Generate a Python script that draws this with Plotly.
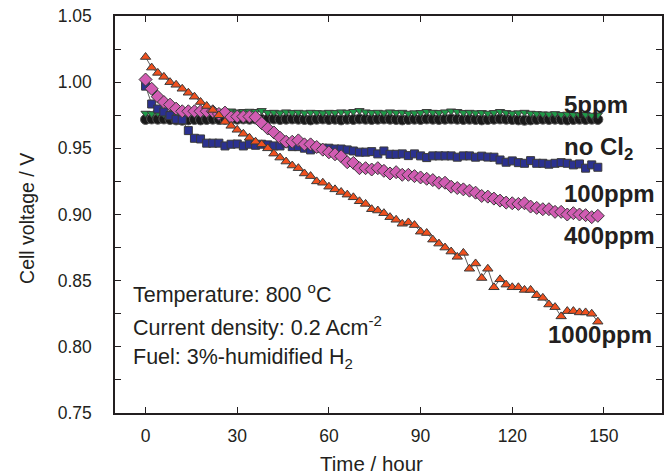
import plotly.graph_objects as go

# Sampling times (hours), one reading every 2 h
hours = list(range(0, 150, 2))

# Cell voltage (V) for each Cl2 concentration
v_no_cl2 = [0.9718, 0.9722, 0.9720, 0.9722, 0.9718, 0.9715, 0.9712, 0.9715, 0.9718, 0.9715,
            0.9718, 0.9720, 0.9718, 0.9720, 0.9722, 0.9720, 0.9722, 0.9720, 0.9722, 0.9718,
            0.9720, 0.9722, 0.9718, 0.9720, 0.9722, 0.9720, 0.9718, 0.9715, 0.9720, 0.9722,
            0.9718, 0.9720, 0.9715, 0.9720, 0.9718, 0.9722, 0.9720, 0.9718, 0.9720, 0.9722,
            0.9720, 0.9718, 0.9715, 0.9718, 0.9720, 0.9718, 0.9722, 0.9720, 0.9718, 0.9720,
            0.9722, 0.9720, 0.9718, 0.9720, 0.9718, 0.9715, 0.9718, 0.9720, 0.9722, 0.9720,
            0.9718, 0.9715, 0.9712, 0.9715, 0.9718, 0.9720, 0.9718, 0.9720, 0.9718, 0.9715,
            0.9718, 0.9720, 0.9718, 0.9720, 0.9718]

v_5ppm = [0.9765, 0.9762, 0.9768, 0.9760, 0.9765, 0.9762, 0.9770, 0.9765, 0.9768, 0.9762,
          0.9770, 0.9765, 0.9775, 0.9780, 0.9782, 0.9775, 0.9778, 0.9780, 0.9778, 0.9785,
          0.9770, 0.9772, 0.9768, 0.9775, 0.9770, 0.9772, 0.9768, 0.9772, 0.9770, 0.9768,
          0.9772, 0.9770, 0.9775, 0.9772, 0.9778, 0.9785, 0.9775, 0.9770, 0.9772, 0.9768,
          0.9775, 0.9770, 0.9772, 0.9765, 0.9768, 0.9770, 0.9778, 0.9772, 0.9770, 0.9775,
          0.9782, 0.9778, 0.9770, 0.9772, 0.9768, 0.9770, 0.9765, 0.9770, 0.9778, 0.9770,
          0.9765, 0.9768, 0.9772, 0.9765, 0.9762, 0.9760, 0.9758, 0.9762, 0.9755, 0.9758,
          0.9755, 0.9752, 0.9755, 0.9750, 0.9752]

v_100ppm = [0.9970, 0.9835, 0.9797, 0.9775, 0.9747, 0.9720, 0.9715, 0.9634, 0.9576, 0.9571,
            0.9539, 0.9539, 0.9539, 0.9518, 0.9531, 0.9533, 0.9518, 0.9531, 0.9523, 0.9531,
            0.9526, 0.9518, 0.9518, 0.9539, 0.9513, 0.9513, 0.9501, 0.9488, 0.9501, 0.9501,
            0.9501, 0.9495, 0.9495, 0.9488, 0.9480, 0.9471, 0.9471, 0.9475, 0.9458, 0.9480,
            0.9455, 0.9455, 0.9458, 0.9445, 0.9458, 0.9443, 0.9430, 0.9443, 0.9443, 0.9443,
            0.9443, 0.9433, 0.9443, 0.9443, 0.9433, 0.9441, 0.9434, 0.9433, 0.9412, 0.9395,
            0.9405, 0.9392, 0.9387, 0.9407, 0.9387, 0.9387, 0.9380, 0.9387, 0.9392, 0.9387,
            0.9375, 0.9382, 0.9350, 0.9375, 0.9357]

v_400ppm = [1.0020, 0.9950, 0.9890, 0.9850, 0.9830, 0.9800, 0.9780, 0.9780, 0.9780, 0.9780,
            0.9780, 0.9780, 0.9760, 0.9770, 0.9735, 0.9740, 0.9740, 0.9740, 0.9735, 0.9690,
            0.9650, 0.9620, 0.9580, 0.9550, 0.9550, 0.9560, 0.9530, 0.9530, 0.9510, 0.9490,
            0.9470, 0.9455, 0.9440, 0.9395, 0.9390, 0.9350, 0.9350, 0.9340, 0.9350, 0.9330,
            0.9310, 0.9320, 0.9300, 0.9300, 0.9290, 0.9280, 0.9270, 0.9260, 0.9240, 0.9240,
            0.9210, 0.9200, 0.9190, 0.9180, 0.9165, 0.9140, 0.9135, 0.9120, 0.9105, 0.9090,
            0.9085, 0.9080, 0.9085, 0.9060, 0.9050, 0.9040, 0.9040, 0.9020, 0.9020, 0.9000,
            0.9010, 0.9000, 0.8995, 0.8980, 0.8990]

v_1000ppm = [1.019, 1.011, 1.007, 1.004, 1.000, 0.998, 0.995, 0.992, 0.989, 0.985,
             0.982, 0.979, 0.975, 0.970, 0.967, 0.964, 0.961, 0.958, 0.955, 0.953,
             0.950, 0.946, 0.943, 0.940, 0.937, 0.935, 0.931, 0.929, 0.925, 0.924,
             0.921, 0.919, 0.917, 0.915, 0.913, 0.910, 0.908, 0.904, 0.903, 0.901,
             0.898, 0.896, 0.893, 0.894, 0.892, 0.887, 0.886, 0.881, 0.878, 0.875,
             0.872, 0.868, 0.871, 0.859, 0.863, 0.852, 0.859, 0.845, 0.851, 0.847,
             0.845, 0.845, 0.843, 0.843, 0.839, 0.837, 0.832, 0.830, 0.823, 0.827,
             0.827, 0.826, 0.826, 0.825, 0.819]

# Curve labels at the right-hand end of the traces
curve_labels = ["5ppm", "no Cl<sub>2</sub>", "100ppm", "400ppm", "1000ppm"]
label_x = [136.4, 136.4, 136.4, 136.4, 130.9]
label_y = [0.9830, 0.9502, 0.9159, 0.8842, 0.8097]

# Test conditions
conditions = ["Temperature: 800 <sup>o</sup>C",
              "Current density: 0.2 Acm<sup>-2</sup>",
              "Fuel: 3%-humidified H<sub>2</sub>"]
cond_y = [0.8408, 0.8159, 0.7915]

FONT = "Liberation Sans, Arial, Helvetica, sans-serif"
INK = "#231f20"
EDGE = "#3a3a3a"

series = [
    ("no Cl2", v_no_cl2, "circle", "#1a1a1a", 10, "#555555"),
    ("5ppm", v_5ppm, "triangle-down", "#1f9a48", 8, EDGE),
    ("100ppm", v_100ppm, "square", "#2b3190", 8, EDGE),
    ("400ppm", v_400ppm, "diamond", "#d15cb2", 10, EDGE),
    ("1000ppm", v_1000ppm, "triangle-up", "#f0501e", 9, EDGE),
]

fig = go.Figure()
for name, vals, sym, col, size, edge in series:
    fig.add_trace(go.Scatter(
        x=hours, y=vals, name=name, mode="lines+markers",
        line=dict(color="#333333", width=0.8),
        marker=dict(symbol=sym, size=size, color=col,
                    line=dict(color=edge, width=1)),
        showlegend=False,
    ))

for txt, xx, yy in zip(curve_labels, label_x, label_y):
    fig.add_annotation(x=xx, y=yy, xref="x", yref="y", text="<b>" + txt + "</b>",
                       showarrow=False, xanchor="left", yanchor="middle",
                       font=dict(family=FONT, size=24, color=INK))

for txt, yy in zip(conditions, cond_y):
    fig.add_annotation(x=-4.8, y=yy, xref="x", yref="y", text=txt,
                       showarrow=False, xanchor="left", yanchor="middle",
                       font=dict(family=FONT, size=21.5, color=INK))

# Axis titles
fig.add_annotation(x=74, y=-0.128, xref="x", yref="paper", text="Time / hour",
                   showarrow=False, xanchor="center", yanchor="middle",
                   font=dict(family=FONT, size=20.5, color=INK))
fig.add_annotation(x=-0.16, y=0.49, xref="paper", yref="paper", text="Cell voltage / V",
                   showarrow=False, textangle=-90, xanchor="center", yanchor="middle",
                   font=dict(family=FONT, size=19.5, color=INK))

axis_common = dict(
    showline=True, linecolor=INK, linewidth=1.5, mirror="allticks",
    ticks="inside", ticklen=6, tickwidth=1.2, tickcolor=INK,
    showgrid=False, zeroline=False,
    tickfont=dict(family=FONT, size=17.5, color=INK),
)

fig.update_xaxes(range=[-10, 169], tickmode="array", tickvals=[0, 30, 60, 90, 120, 150],
                 ticklabelstandoff=6, **axis_common)
fig.update_yaxes(range=[0.75, 1.05], tickmode="array",
                 tickvals=[0.75, 0.80, 0.85, 0.90, 0.95, 1.00, 1.05],
                 ticktext=["0.75", "0.80", "0.85", "0.90", "0.95", "1.00", "1.05"],
                 minor=dict(dtick=0.025, tick0=0.75, ticks="inside", ticklen=6,
                            tickwidth=1.2, tickcolor=INK),
                 ticklabelstandoff=18, **axis_common)

fig.update_layout(
    width=665, height=474,
    margin=dict(l=115, r=1, t=16, b=61),
    paper_bgcolor="white", plot_bgcolor="white",
    font=dict(family=FONT, color=INK),
)

fig.write_html("out.html")
